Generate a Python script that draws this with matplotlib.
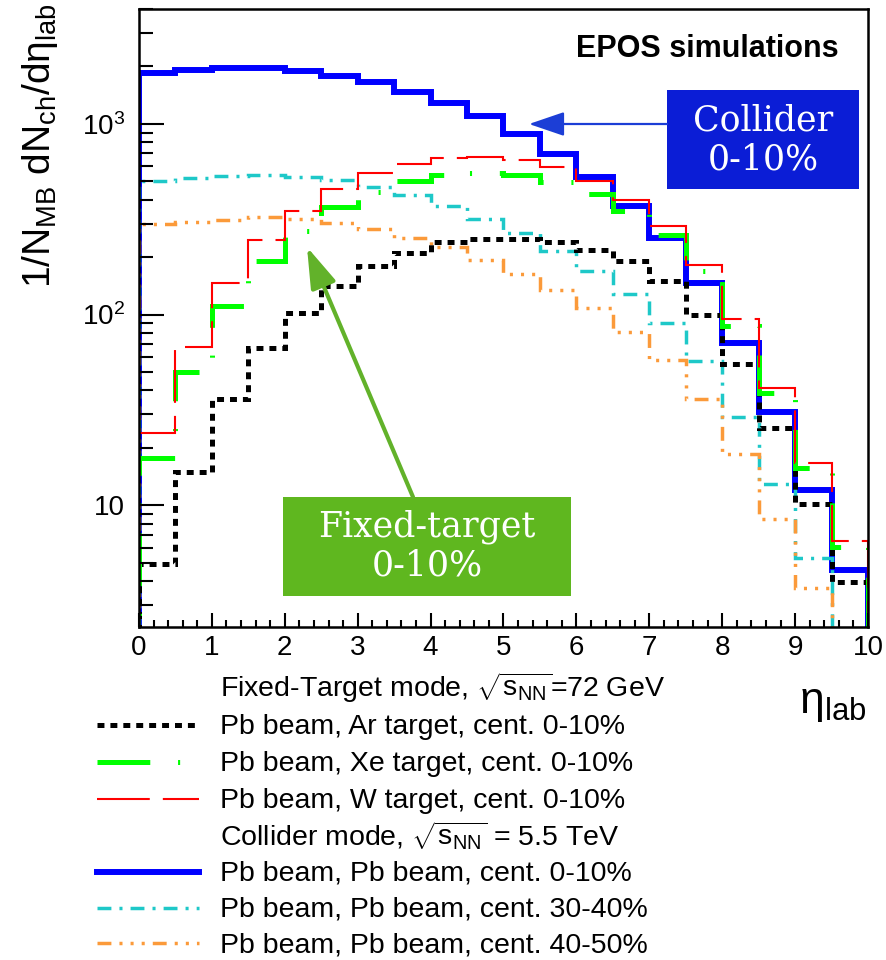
import numpy as np
import matplotlib
matplotlib.use('Agg')
import matplotlib.pyplot as plt
from matplotlib.lines import Line2D
from matplotlib.patches import Rectangle, FancyArrowPatch
from matplotlib.ticker import MultipleLocator, LogLocator, NullFormatter, FuncFormatter

plt.rcParams['font.family'] = ['Liberation Sans', 'DejaVu Sans']
plt.rcParams['mathtext.fontset'] = 'custom'
plt.rcParams['mathtext.rm'] = 'Liberation Sans'
plt.rcParams['mathtext.it'] = 'Liberation Sans:italic'
plt.rcParams['mathtext.bf'] = 'Liberation Sans:bold'
plt.rcParams['mathtext.default'] = 'regular'
plt.rcParams['lines.scale_dashes'] = False

# eta_lab bins (width 0.5)
eta_edges = np.arange(0, 10.01, 0.5)

# fixed-target mode, sqrt(s_NN) = 72 GeV, cent. 0-10%
ar_target = [4.94, 14.9, 36.2, 66.9, 102, 141, 179, 211, 239, 249,
             249, 239, 218, 191, 150, 100, 55, 25.3, 10.2, 3.95]
xe_target = [17.6, 50, 111, 191, 273, 365, 437, 500, 542, 551,
             542, 498, 430, 351, 262, 169, 87, 38.7, 15.6, 6.05]
w_target = [23.9, 67.8, 147, 247, 348, 456, 551, 617, 664, 674,
            643, 593, 500, 401, 292, 181, 94.4, 41.2, 16.6, 6.5]
# collider mode, sqrt(s_NN) = 5.5 TeV
pbpb_0_10 = [1850, 1910, 1960, 1960, 1900, 1785, 1650, 1470, 1285, 1095,
             888, 696, 525, 372, 253, 147, 71, 30.7, 12.0, 4.56]
pbpb_30_40 = [500, 521, 533, 542, 529, 505, 464, 425, 369, 317,
              267, 216, 169, 128, 90.6, 56.9, 29.2, 12.9, 5.31, 2.0]
pbpb_40_50 = [298, 304, 315, 323, 316, 303, 281, 253, 226, 193,
              163, 134, 108, 81, 57.7, 36.2, 18.6, 8.5, 3.69, 2.0]

header_ft = r'Fixed-Target mode, $\sqrt{s_{NN}}$=72 GeV'
header_col = r'Collider mode, $\sqrt{s_{NN}}$ = 5.5 TeV'

# (values, label, color, linewidth, linestyle)
series = [
    (pbpb_0_10, 'Pb beam, Pb beam, cent. 0-10%', '#0000ff', 4.3, '-'),
    (pbpb_30_40, 'Pb beam, Pb beam, cent. 30-40%', '#1ec8c8', 2.5, (0, (10, 5.8, 2.2, 5.8))),
    (pbpb_40_50, 'Pb beam, Pb beam, cent. 40-50%', '#fb9a3a', 2.5, (0, (10, 5.8, 2.2, 5.8, 2.2, 5.8, 2.2, 5.8))),
    (ar_target, 'Pb beam, Ar target, cent. 0-10%', '#000000', 3.6, (0, (5, 4.3))),
    (xe_target, 'Pb beam, Xe target, cent. 0-10%', '#00ff00', 3.6, (0, (38, 20, 1.5, 20))),
    (w_target, 'Pb beam, W target, cent. 0-10%', '#ff0000', 1.5, (0, (38, 9.4))),
]

W, H = 887, 960
fig = plt.figure(figsize=(W / 100, H / 100), dpi=100)

def fx(px):
    return px / W

def fy(py):
    return 1 - py / H

ax = fig.add_axes([fx(139), fy(627), fx(868) - fx(139), fy(9) - fy(627)])

for vals, lab, col, lw, ls in series:
    ax.stairs(vals, eta_edges, baseline=1.0, color=col, lw=lw, linestyle=ls)

ax.set_yscale('log')
ax.set_xlim(0, 10)
ax.set_ylim(2.3, 4000)
ax.xaxis.set_major_locator(MultipleLocator(1))
ax.xaxis.set_minor_locator(MultipleLocator(0.2))
ax.yaxis.set_major_locator(LogLocator(base=10))
ax.yaxis.set_minor_locator(LogLocator(base=10, subs=np.arange(2, 10)))
ax.yaxis.set_minor_formatter(NullFormatter())
ax.yaxis.set_major_formatter(FuncFormatter(
    lambda v, p: '10' if abs(v - 10) < 1e-6 else r'$10^{%d}$' % round(np.log10(v))))

ax.tick_params(axis='both', which='both', direction='in', top=False, right=False,
               labelsize=20, width=1.5)
ax.tick_params(axis='y', which='major', length=18, pad=10)
ax.tick_params(axis='y', which='minor', length=10)
ax.tick_params(axis='x', which='major', length=10, pad=6)
ax.tick_params(axis='x', which='minor', length=5)
for sp in ax.spines.values():
    sp.set_linewidth(1.8)

ax.text(0.96, 0.935, 'EPOS simulations', transform=ax.transAxes, ha='right',
        va='center', fontsize=22, fontweight='bold')

# axis titles
fig.text(fx(40), fy(3), r'1/N$_{MB}$ dN$_{ch}$/d$\eta_{lab}$', rotation=90,
         ha='center', va='top', fontsize=28)
fig.text(fx(866), fy(713), r'$\eta_{lab}$', ha='right', va='baseline', fontsize=32)

# legend below the frame
rows = [(688, None, header_ft)] + \
       [(725, series[3], None), (762, series[4], None), (799, series[5], None)] + \
       [(836, None, header_col)] + \
       [(872, series[0], None), (908, series[1], None), (943, series[2], None)]
for y, s, head in rows:
    if s is None:
        fig.text(fx(220), fy(y + 9), head, ha='left', va='baseline', fontsize=20.5)
        continue
    vals, lab, col, lw, ls = s
    fig.add_artist(Line2D([fx(97), fx(199)], [fy(y), fy(y)], transform=fig.transFigure,
                          color=col, lw=lw, linestyle=ls))
    fig.text(fx(220), fy(y + 9), lab, ha='left', va='baseline', fontsize=20.5)

# annotation boxes
blue_box = '#0b1dd6'
green_box = '#5fb71f'
fig.add_artist(Rectangle((fx(667), fy(189)), fx(859) - fx(667), fy(90) - fy(189),
                         transform=fig.transFigure, facecolor=blue_box, edgecolor='none'))
fig.text(fx(763), fy(140), 'Collider\n0-10%', ha='center', va='center', color='white',
         fontsize=25, family='DejaVu Serif', linespacing=1.15)
fig.add_artist(FancyArrowPatch((fx(667), fy(124)), (fx(529), fy(124)),
                               transform=fig.transFigure, color='#1c3ed6', lw=1.6,
                               arrowstyle='-|>,head_length=22,head_width=7.5',
                               mutation_scale=1, shrinkA=0, shrinkB=0))

fig.add_artist(Rectangle((fx(283), fy(596)), fx(571) - fx(283), fy(497) - fy(596),
                         transform=fig.transFigure, facecolor=green_box, edgecolor='none'))
fig.text(fx(427), fy(546), 'Fixed-target\n0-10%', ha='center', va='center', color='white',
         fontsize=25, family='DejaVu Serif', linespacing=1.15)
fig.add_artist(FancyArrowPatch((fx(413), fy(497)), (fx(307), fy(247)),
                               transform=fig.transFigure, color='#62b22a', lw=3,
                               arrowstyle='-|>,head_length=25,head_width=8',
                               mutation_scale=1, shrinkA=0, shrinkB=0))

fig.savefig('out.png', dpi=100)
